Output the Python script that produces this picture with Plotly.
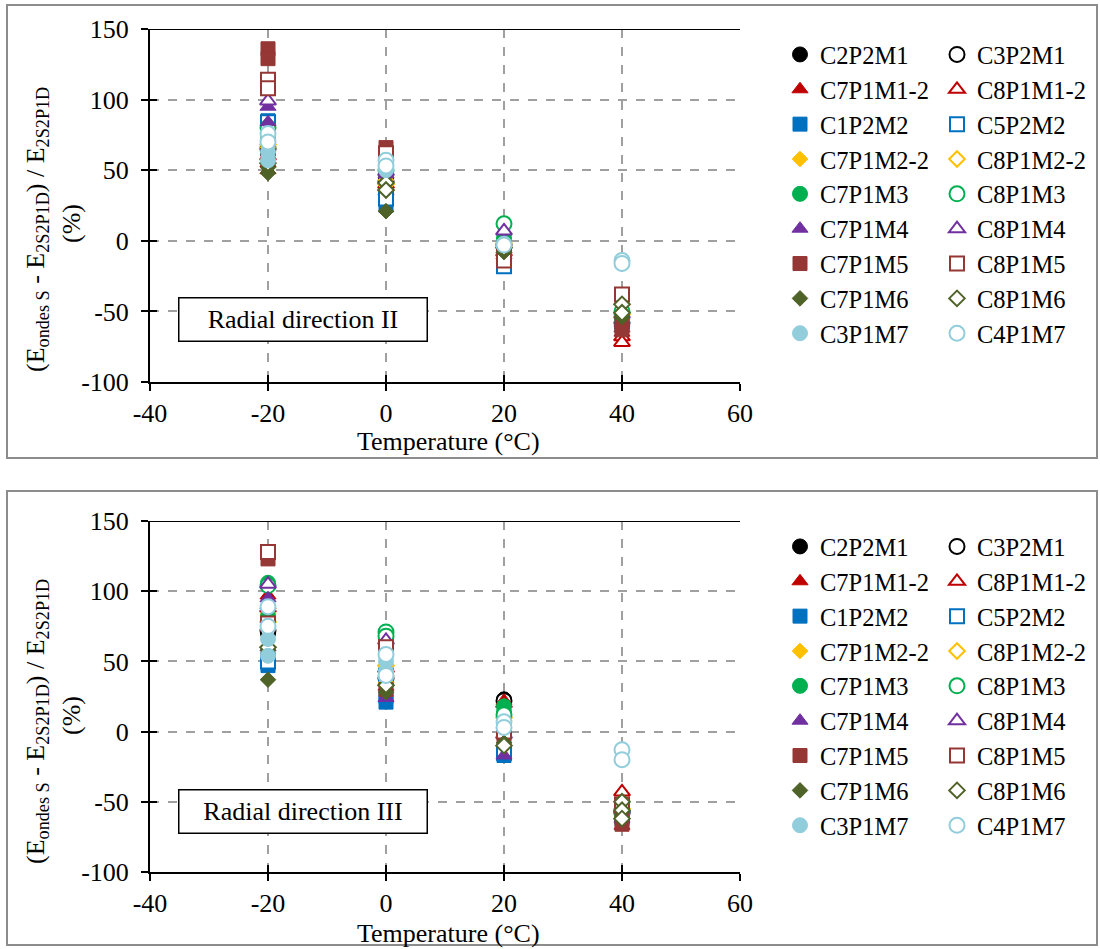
import plotly.graph_objects as go

# ---------------- data ----------------
temperatures = [-20, 0, 20, 40]

x_tick_values = [-40, -20, 0, 20, 40, 60]
x_tick_labels = ["-40", "-20", "0", "20", "40", "60"]
y_tick_values = [-100, -50, 0, 50, 100, 150]
y_tick_labels = ["-100", "-50", "0", "50", "100", "150"]

series_names = ["C2P2M1", "C3P2M1", "C7P1M1-2", "C8P1M1-2", "C1P2M2", "C5P2M2",
                "C7P1M2-2", "C8P1M2-2", "C7P1M3", "C8P1M3", "C7P1M4", "C8P1M4",
                "C7P1M5", "C8P1M5", "C7P1M6", "C8P1M6", "C3P1M7", "C4P1M7"]

series_colors = ["#000000", "#000000", "#C00000", "#C00000", "#0070C0", "#0070C0",
                 "#FFC000", "#FFC000", "#00B050", "#00B050", "#7030A0", "#7030A0",
                 "#953735", "#953735", "#4F6228", "#4F6228", "#92CDDC", "#92CDDC"]

series_symbols = ["circle", "circle", "triangle-up", "triangle-up", "square", "square",
                  "diamond", "diamond", "circle", "circle", "triangle-up", "triangle-up",
                  "square", "square", "diamond", "diamond", "circle", "circle"]

series_open = [False, True] * 9

# values per series: [at -20, at 0, at 20, at 40]
radial_II = [
    [[62], [45], [-5], [-60]],
    [[65], [42], [-3], [-58]],
    [[50, 55], [35, 38], [-6, -10], [-62, -65]],
    [[60], [40], [-8], [-68, -72]],
    [[85, 80], [31, 25], [-12], [-60]],
    [[84], [30], [-18], [-57]],
    [[70, 66], [43, 45], [-4], [-56]],
    [[68], [40], [-2], [-52]],
    [[78, 74], [48], [2], [-55]],
    [[80], [50], [12], [-50]],
    [[95, 84], [47], [0], [-58]],
    [[99], [49], [7], [-52]],
    [[136, 129], [66], [-10], [-58, -63]],
    [[114, 108], [62], [-9, -14], [-38]],
    [[48, 52], [21], [-8], [-54]],
    [[55], [41, 36], [-5], [-45, -51]],
    [[63, 57], [50], [-2], [-15]],
    [[76, 70], [57, 53], [-3], [-14, -16]],
]

radial_III = [
    [[70], [35], [23], [-60]],
    [[72], [38], [22], [-58]],
    [[97, 90], [32], [22], [-67]],
    [[88], [45], [20], [-43]],
    [[47, 52], [21, 25], [-17], [-62]],
    [[50], [40], [-15], [-60]],
    [[84, 80], [35], [8], [-58]],
    [[78], [47], [10], [-55]],
    [[106, 82], [67], [18, 14], [-60]],
    [[104], [71, 68], [12], [-57]],
    [[95, 60], [24], [-17], [-62]],
    [[105], [65], [-2], [-55]],
    [[123], [30], [-5], [-58, -66]],
    [[128, 77], [60], [0], [-52]],
    [[37, 58], [28], [-8], [-56]],
    [[60], [33], [-10], [-50, -56, -62]],
    [[66, 54], [50, 43], [5], [-20]],
    [[89, 75], [55, 40], [7, 3], [-13, -20]],
]

panel_labels = ["Radial direction II", "Radial direction III"]

# ---------------- figure ----------------
W, H = 1100, 949
FONT = "'Liberation Serif', 'Times New Roman', serif"
FS = 26
LFS = 24.5

def px_x(p):
    return p / W

def px_y(p):
    return 1 - p / H

sizes = {"circle": 15, "square": 14, "triangle-up": 14, "diamond": 12}

fig = go.Figure()

panels = [
    dict(data=radial_II, xa="x", ya="y", leg=("legend", "legend2")),
    dict(data=radial_III, xa="x2", ya="y2", leg=("legend3", "legend4")),
]

for p in panels:
    for i, name in enumerate(series_names):
        xs, ys = [], []
        for t, vals in zip(temperatures, p["data"][i]):
            for v in vals:
                xs.append(t)
                ys.append(v)
        col = series_colors[i]
        if series_open[i]:
            marker = dict(symbol=series_symbols[i], size=sizes[series_symbols[i]],
                          color="white", line=dict(color=col, width=2))
        else:
            marker = dict(symbol=series_symbols[i], size=sizes[series_symbols[i]],
                          color=col, line=dict(color=col, width=1))
        fig.add_trace(go.Scatter(
            x=xs, y=ys, mode="markers", name=name, marker=marker,
            xaxis=p["xa"], yaxis=p["ya"],
            legend=p["leg"][1] if series_open[i] else p["leg"][0],
            showlegend=True,
        ))

# overlay axes for inner half of cross ticks
fig.add_trace(go.Scatter(x=[], y=[], xaxis="x3", yaxis="y3", showlegend=False))
fig.add_trace(go.Scatter(x=[], y=[], xaxis="x4", yaxis="y4", showlegend=False))

xdom = [px_x(150), px_x(740)]
ydom_top = [px_y(382), px_y(29)]
ydom_bot = [px_y(872), px_y(521)]

def xaxis_cfg(anchor, dom):
    return dict(domain=dom, anchor=anchor, range=[-40, 60],
                tickmode="array", tickvals=x_tick_values, ticktext=x_tick_labels,
                showline=True, linecolor="black", linewidth=2,
                ticks="outside", ticklen=7, tickwidth=2, tickcolor="black",
                showgrid=True, gridcolor="#A0A0A0", gridwidth=1.5, griddash="dash",
                zeroline=False, ticklabelstandoff=0, automargin=False,
                tickfont=dict(family=FONT, size=FS, color="black"))

def yaxis_cfg(anchor, dom):
    return dict(domain=dom, anchor=anchor, range=[-100, 150],
                tickmode="array", tickvals=y_tick_values, ticktext=y_tick_labels,
                showline=True, linecolor="black", linewidth=2,
                ticks="outside", ticklen=7, tickwidth=2, tickcolor="black",
                showgrid=True, gridcolor="#A0A0A0", gridwidth=1.5, griddash="dash",
                zeroline=False, ticklabelstandoff=7, automargin=False,
                tickfont=dict(family=FONT, size=FS, color="black"))

def overlay_x(ov, anchor):
    return dict(overlaying=ov, anchor=anchor, range=[-40, 60],
                tickmode="array", tickvals=x_tick_values,
                showline=False, ticks="inside", ticklen=7, tickwidth=2, tickcolor="black",
                showticklabels=False, showgrid=False, zeroline=False, automargin=False)

def overlay_y(ov, anchor):
    return dict(overlaying=ov, anchor=anchor, range=[-100, 150],
                tickmode="array", tickvals=y_tick_values,
                showline=False, ticks="inside", ticklen=7, tickwidth=2, tickcolor="black",
                showticklabels=False, showgrid=False, zeroline=False, automargin=False)

legend_common = dict(font=dict(family=FONT, size=LFS, color="black"),
                     bgcolor="rgba(0,0,0,0)", borderwidth=0, traceorder="normal",
                     xanchor="left", yanchor="top", itemsizing="trace",
                     tracegroupgap=0, xref="container", yref="container")

frames = [(5, 458), (491, 945)]

shapes = []
annotations = []
for k, off in enumerate([0, 492]):
    shapes.append(dict(type="rect", xref="paper", yref="paper",
                       x0=px_x(7), x1=px_x(1097),
                       y0=px_y(frames[k][1]), y1=px_y(frames[k][0]),
                       line=dict(color="#8C8C8C", width=2), fillcolor="rgba(0,0,0,0)"))
    xr = "x domain" if k == 0 else "x2 domain"
    yr = "y" if k == 0 else "y2"
    shapes.append(dict(type="line", xref=xr, yref=yr, x0=0, x1=1, y0=150, y1=150,
                       line=dict(color="black", width=2)))
    annotations.append(dict(
        text="(E<sub>ondes S</sub> - E<sub>2S2P1D</sub>) / E<sub>2S2P1D</sub>",
        xref="paper", yref="paper", x=px_x(37), y=px_y(230 + off),
        showarrow=False, textangle=-90, xanchor="center", yanchor="middle",
        font=dict(family=FONT, size=FS, color="black")))
    annotations.append(dict(
        text="(%)", xref="paper", yref="paper", x=px_x(71), y=px_y(224 + off),
        showarrow=False, textangle=-90, xanchor="center", yanchor="middle",
        font=dict(family=FONT, size=FS, color="black")))
    annotations.append(dict(
        text="Temperature (°C)", xref="paper", yref="paper",
        x=px_x(448), y=px_y(441 + off), showarrow=False,
        xanchor="center", yanchor="middle",
        font=dict(family=FONT, size=FS, color="black")))
    annotations.append(dict(
        text=panel_labels[k], xref="paper", yref="paper",
        x=px_x(302.5), y=px_y(319 + off), showarrow=False,
        xanchor="center", yanchor="middle", width=237, height=32,
        bordercolor="black", borderwidth=1.5, borderpad=5, bgcolor="white",
        font=dict(family=FONT, size=FS, color="black")))

fig.update_layout(
    width=W, height=H,
    margin=dict(l=0, r=0, t=0, b=0, autoexpand=False),
    paper_bgcolor="white", plot_bgcolor="white",
    xaxis=xaxis_cfg("y", xdom),
    yaxis=yaxis_cfg("x", ydom_top),
    xaxis2=xaxis_cfg("y2", xdom),
    yaxis2=yaxis_cfg("x2", ydom_bot),
    xaxis3=overlay_x("x", "y3"),
    yaxis3=overlay_y("y", "x3"),
    xaxis4=overlay_x("x2", "y4"),
    yaxis4=overlay_y("y2", "x4"),
    legend=dict(x=px_x(780), y=px_y(32), **legend_common),
    legend2=dict(x=px_x(937), y=px_y(32), **legend_common),
    legend3=dict(x=px_x(780), y=px_y(524), **legend_common),
    legend4=dict(x=px_x(937), y=px_y(524), **legend_common),
    shapes=shapes,
    annotations=annotations,
    showlegend=True,
)

fig.write_html("out.html", config={"displayModeBar": False},
               post_script="document.body.style.margin='0';document.body.style.overflow='hidden';")
